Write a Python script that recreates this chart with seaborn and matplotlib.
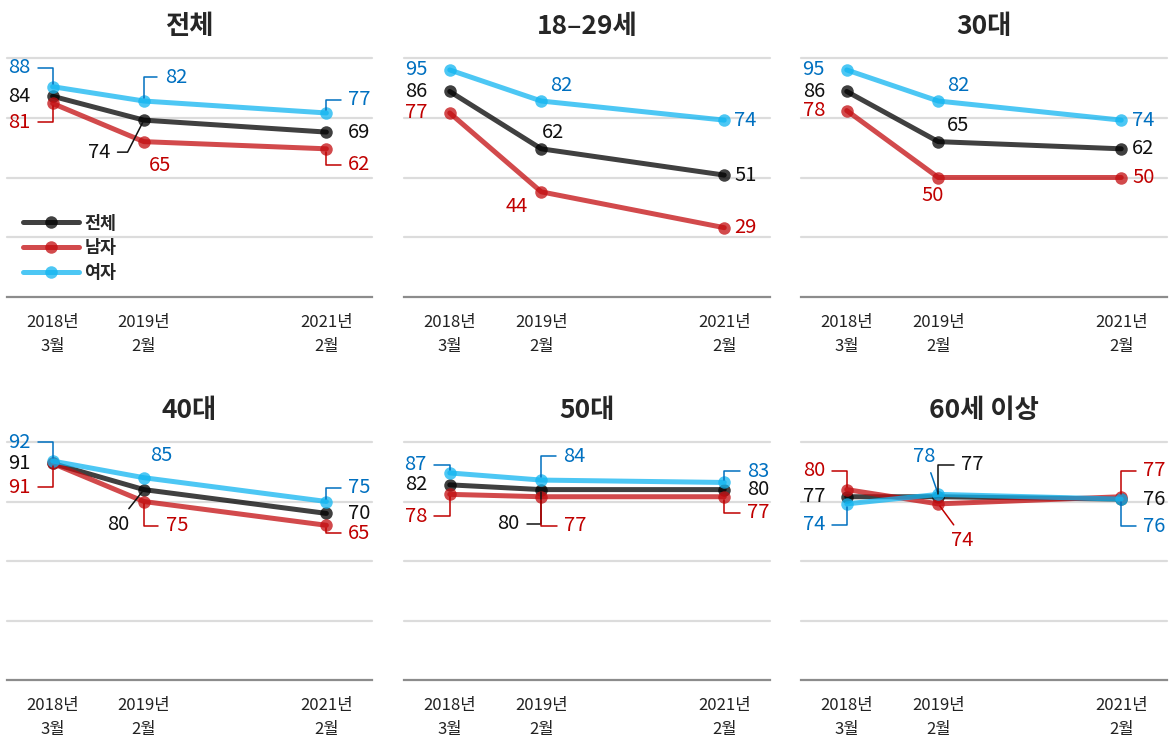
import matplotlib
import pandas as pd
import seaborn as sns
from matplotlib import pyplot as plt
from matplotlib.lines import Line2D

matplotlib.use('Agg')

panels = ['전체', '18–29세', '30대', '40대', '50대', '60세 이상']
groups = ['전체', '남자', '여자']
years = [2018, 2019, 2021]
tick_labels = ['2018년\n3월', '2019년\n2월', '2021년\n2월']

total = [[84, 74, 69], [86, 62, 51], [86, 65, 62], [91, 80, 70], [82, 80, 80], [77, 77, 76]]
men = [[81, 65, 62], [77, 44, 29], [78, 50, 50], [91, 75, 65], [78, 77, 77], [80, 74, 77]]
women = [[88, 82, 77], [95, 82, 74], [95, 82, 74], [92, 85, 75], [87, 84, 83], [74, 78, 76]]

line_colors = {'전체': '#000000', '남자': '#c30d10', '여자': '#11b5f1'}
text_colors = {'전체': '#111111', '남자': '#c00000', '여자': '#0070c0'}

# label placement: (group, time index, dx px, dy px, leader)
label_pos = {
    '전체': [('여자', 0, -33, 19, 'elbow'), ('전체', 0, -33, 0, None), ('남자', 0, -33, -19, 'elbow'),
             ('여자', 1, 32, 24, 'elbow'), ('전체', 1, -45, -32, 'slant'), ('남자', 1, 16, -24, None),
             ('여자', 2, 33, 13, 'elbow'), ('전체', 2, 33, 0, None), ('남자', 2, 33, -16, 'elbow')],
    '18–29세': [('여자', 0, -33, 0, None), ('전체', 0, -33, 0, None), ('남자', 0, -33, 0, None),
               ('여자', 1, 20, 16, None), ('전체', 1, 12, 16, None), ('남자', 1, -25, -15, None),
               ('여자', 2, 21, 0, None), ('전체', 2, 21, 0, None), ('남자', 2, 21, 0, None)],
    '30대': [('여자', 0, -33, 0, None), ('전체', 0, -33, 0, None), ('남자', 0, -33, 0, None),
            ('여자', 1, 20, 16, None), ('전체', 1, 20, 16, None), ('남자', 1, -6, -18, None),
            ('여자', 2, 22, 0, None), ('전체', 2, 22, 0, None), ('남자', 2, 22, 0, None)],
    '40대': [('여자', 0, -33, 19, 'elbow'), ('전체', 0, -33, 0, None), ('남자', 0, -33, -24, 'elbow'),
            ('여자', 1, 17, 22, None), ('전체', 1, -26, -35, ('line', (0.8, 1))),
            ('남자', 1, 33, -24, 'elbow'),
            ('여자', 2, 33, 14, 'elbow'), ('전체', 2, 33, 0, None), ('남자', 2, 33, -8, 'elbow')],
    '50대': [('여자', 0, -34, 8, 'elbow'), ('전체', 0, -34, 0, None), ('남자', 0, -34, -22, 'elbow'),
            ('여자', 1, 33, 24, 'elbow'), ('전체', 1, -33, -34, 'elbow'), ('남자', 1, 34, -29, 'elbow'),
            ('여자', 2, 34, 11, 'elbow'), ('전체', 2, 34, 0, None), ('남자', 2, 34, -16, 'elbow')],
    '60세 이상': [('남자', 0, -33, 19, 'elbow'), ('전체', 0, -33, 0, None), ('여자', 0, -33, -21, 'elbow'),
              ('여자', 1, -14, 38, ('line', (0.7, 0))), ('전체', 1, 34, 32, 'elbow'),
              ('남자', 1, 24, -37, ('line', (0.3, 1))),
              ('남자', 2, 33, 26, 'elbow'), ('전체', 2, 33, 0, None), ('여자', 2, 33, -27, 'elbow')],
}

rows = []
for i, name in enumerate(panels):
    for g, series in zip(groups, [total, men, women]):
        for t, v in enumerate(series[i]):
            rows.append({'panel': name, 'group': g, 'x': years[t], 't': t, 'value': v})
df = pd.DataFrame(rows)

sns.set_style('white')
plt.rcParams['font.family'] = ['Noto Sans CJK KR', 'DejaVu Sans']

W, H = 1174, 740
fig = plt.figure(figsize=(W / 100, H / 100), dpi=100)
fig.patch.set_facecolor('white')

cols = [(7, 372), (404, 770), (801, 1167)]
rows_px = [(58, 297), (442, 680)]

for i, name in enumerate(panels):
    x0, x1 = cols[i % 3]
    y0, y1 = rows_px[i // 3]
    ax = fig.add_axes([x0 / W, 1 - y1 / H, (x1 - x0) / W, (y1 - y0) / H])
    sub = df[df['panel'] == name]

    for level in [25, 50, 75, 100]:
        ax.axhline(level, color='#dcdcdc', lw=1.6, zorder=0, clip_on=False)

    sns.lineplot(data=sub, x='x', y='value', hue='group', hue_order=groups,
                 palette=line_colors, marker='o', markersize=9, markeredgewidth=0,
                 linewidth=3.6, alpha=0.75, legend=False, sort=False, ax=ax)

    ax.set_xlim(2017.5, 2021.5)
    ax.set_ylim(0, 100)
    ax.set_yticks([])
    ax.set_xticks(years, labels=tick_labels)
    ax.tick_params(axis='x', length=0, pad=12, labelsize=12, labelcolor='#222222')
    for lab in ax.get_xticklabels():
        lab.set_linespacing(1.55)
    ax.set_xlabel('')
    ax.set_ylabel('')
    for side in ['top', 'left', 'right']:
        ax.spines[side].set_visible(False)
    ax.spines['bottom'].set_color('#8c8c8c')
    ax.spines['bottom'].set_linewidth(1.6)
    ax.set_title(name, fontsize=19, fontweight='bold', pad=17)

    for g, t, dx, dy, leader in label_pos[name]:
        v = sub[(sub['group'] == g) & (sub['t'] == t)]['value'].iloc[0]
        kw = dict(xy=(years[t], v), xytext=(dx, dy), textcoords='offset pixels',
                  ha='center', va='center', fontsize=14.5, color=text_colors[g], zorder=5)
        if leader is not None:
            if leader == 'elbow':
                props = dict(arrowstyle='-', color=text_colors[g], lw=1.1,
                             connectionstyle='angle,angleA=0,angleB=90,rad=0',
                             relpos=(1, 0.5) if dx < 0 else (0, 0.5), shrinkA=3, shrinkB=2)
            elif leader == 'slant':
                props = dict(arrowstyle='-', color=text_colors[g], lw=1.1,
                             connectionstyle='angle,angleA=0,angleB=63,rad=0',
                             relpos=(1, 0.5), shrinkA=3, shrinkB=2)
            else:
                props = dict(arrowstyle='-', color=text_colors[g], lw=1.1,
                             relpos=leader[1], shrinkA=2, shrinkB=2)
            kw['arrowprops'] = props
        ax.annotate(str(v), **kw)

    if i == 0:
        handles = [Line2D([0], [0], color=line_colors[g], lw=3.6, alpha=0.75,
                          marker='o', markersize=9, markeredgewidth=0) for g in groups]
        ax.legend(handles, groups, loc='upper left', bbox_to_anchor=(0.045, 0.345),
                  frameon=False, handlelength=3.2, labelspacing=0.4, borderpad=0,
                  borderaxespad=0, handletextpad=0.3,
                  prop={'size': 12.5, 'weight': 'bold'})

fig.savefig('out.png', dpi=100, facecolor='white')
